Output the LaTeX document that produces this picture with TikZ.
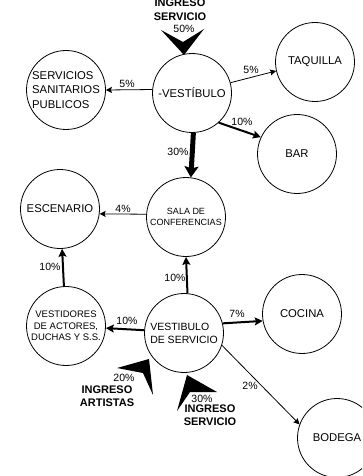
\documentclass[tikz,border=0pt]{standalone}
\usepackage{fontspec}
\setmainfont{Liberation Sans}
\usetikzlibrary{arrows.meta}
\begin{document}
\begin{tikzpicture}[x=1pt,y=-1pt,
  room/.style={circle,draw,line width=0.8pt,minimum size=79pt,inner sep=0pt,align=center,font=\fontsize{11.3}{13.5}\selectfont},
  pct/.style={font=\fontsize{10.5}{12}\selectfont,inner sep=0pt},
  ing/.style={font=\fontsize{11}{13}\selectfont\bfseries,align=center,inner sep=0pt},
  thinarr/.style={line width=0.8pt,-{Stealth[length=6pt,width=6pt,inset=1pt]}},
  medarr/.style={line width=2pt,-{Stealth[length=8pt,width=8pt,inset=1.5pt]}},
  bigarr/.style={line width=5pt,-{Stealth[length=11pt,width=14pt,inset=2pt]}},
  bighead/.style={fill=black}
]
\clip (0,0) rectangle (362,476);
\fill[white] (0,0) rectangle (362,476);

% rooms
\node[room] (ves) at (192,93) {-VESTÍBULO};
\node[room,align=left,font=\fontsize{11.3}{14.5}\selectfont] (san) at (66,90) {SERVICIOS\\SANITARIOS\\PUBLICOS};
\node[room] (taq) at (315,62) {TAQUILLA};
\node[room] (bar) at (297,154) {BAR};
\node[room,font=\fontsize{9}{10.5}\selectfont] (sala) at (186,217) {SALA DE\\CONFERENCIAS};
\node[room] (esc) at (60,209) {ESCENARIO};
\node[room,font=\fontsize{9.5}{11.5}\selectfont] (vdr) at (66,326) {VESTIDORES\\DE ACTORES,\\DUCHAS Y S.S.};
\node[room,align=left,font=\fontsize{10.5}{13}\selectfont] (vds) at (184,333) {VESTIBULO\\DE SERVICIO};
\node[room] (coc) at (302,314) {COCINA};
\node[room] (bod) at (337,438) {BODEGA};

% connectors
\draw[thinarr] (ves.175) -- (san.east);
\draw[thinarr] (ves.15) -- (taq.193);
\draw[medarr] (ves.-48) -- (bar.155);
\draw[bigarr] (ves.-88) -- (sala.83);
\draw[thinarr] (sala.176) -- (esc.-7);
\draw[medarr] (vdr.93) -- (esc.-87);
\draw[medarr] (vds.85) -- (sala.-90);
\draw[medarr] (vds.176) -- (vdr.-3);
\draw[medarr] (vds.14) -- (coc.190);
\draw[thinarr] (vds.-18) -- (bod.160);

% big entry arrowheads
\coordinate (tipA) at (184,55);
\coordinate (tipB) at (149,359);
\coordinate (tipC) at (187,375);
\fill[bighead] (161,30) -- (183,42) -- (204,29) -- (tipA) -- cycle;
\fill[bighead] (117,368) -- (143,373) -- (153,395) -- (tipB) -- cycle;
\fill[bighead] (177,411) -- (190,392) -- (217,392) -- (tipC) -- cycle;

% percentage labels
\node[pct] (l1) at (127,84) {5\%};
\node[pct] (l2) at (251,70) {5\%};
\node[pct] (l3) at (242,122) {10\%};
\node[pct] (l4) at (178,152) {30\%};
\node[pct] (l5) at (123,209) {4\%};
\node[pct] (l6) at (50,267) {10\%};
\node[pct] (l7) at (175,278) {10\%};
\node[pct] (l8) at (127,321) {10\%};
\node[pct] (l9) at (237,314) {7\%};
\node[pct] (l10) at (250,386) {2\%};
\node[pct] (l11) at (184,29) {50\%};
\node[pct] (l12) at (124,378) {20\%};
\node[pct] (l13) at (202,399) {30\%};

% entry labels
\node[ing,font=\fontsize{11}{14}\selectfont\bfseries] (i1) at (180,9.5) {INGRESO\\SERVICIO};
\node[ing] (i2) at (107,396) {INGRESO\\ARTISTAS};
\node[ing] (i3) at (210,415.5) {INGRESO\\SERVICIO};
\end{tikzpicture}
\end{document}
